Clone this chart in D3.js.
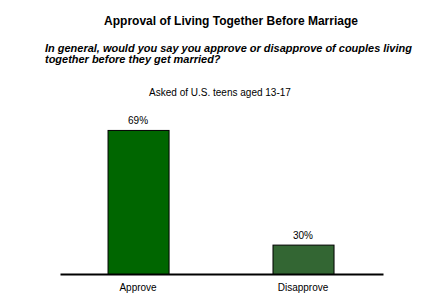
<!DOCTYPE html>
<html>
<head>
<meta charset="utf-8">
<script src="https://cdn.jsdelivr.net/npm/d3@7"></script>
<style>
  body { margin: 0; background: #fff; }
  text { font-family: "Liberation Sans", Arial, sans-serif; fill: #000; }
</style>
</head>
<body>
<svg id="chart"></svg>
<script>

var categories = ["Approve", "Disapprove"]
var values = [69, 30]
var valueLabels = ["69%", "30%"]
var colors = ["#006600", "#336633"]
var questionLines = ["In general, would you say you approve or disapprove of couples living",
                     "together before they get married?"]

var width = 440
var height = 300

var svg = d3.select("#chart")
            .attr("width", width)
            .attr("height", height)

// title + question
svg.append("text")
    .attr("x", 231)
    .attr("y", 25)
    .attr("text-anchor", "middle")
    .style("font-size", "12px")
    .style("font-weight", "bold")
    .text("Approval of Living Together Before Marriage")

var qWidth = 367
var q = svg.selectAll(".q")
    .data(questionLines)
    .enter()
    .append("text")
    .attr("class", "q")
    .attr("x", 45)
    .attr("y", function(d, i) { return 52 + i * 11 })
    .style("font-size", "11.5px")
    .style("font-weight", "bold")
    .style("font-style", "italic")
    .text(function(d) { return d })

// fit the first line to the width seen in the original, same size for both lines
var measured = q.node().getComputedTextLength()
if (measured > 0) {
    var fs = Math.min(13, 11.5 * qWidth / measured)
    q.style("font-size", fs + "px")
}

svg.append("text")
    .attr("x", 220)
    .attr("y", 96)
    .attr("text-anchor", "middle")
    .style("font-size", "10px")
    .text("Asked of U.S. teens aged 13-17")

var xScale = d3.scaleBand()
    .domain(categories)
    .range([60, 383])
    .paddingInner(0.63)
    .paddingOuter(0.294)
    .align(0.49)

// the original chart's value axis does not start at 0
var yScale = d3.scaleLinear()
    .domain([20, 70])
    .range([274, 127])

svg.selectAll(".bar")
    .data(values)
    .enter()
    .append("rect")
    .attr("class", "bar")
    .attr("x", function(d, i) { return xScale(categories[i]) + 0.5 })
    .attr("y", function(d) { return yScale(d) + 0.5 })
    .attr("width", xScale.bandwidth())
    .attr("height", function(d) { return yScale.range()[0] - yScale(d) })
    .attr("fill", function(d, i) { return colors[i] })
    .attr("stroke", "#000")
    .attr("stroke-width", 1)

svg.selectAll(".val")
    .data(values)
    .enter()
    .append("text")
    .attr("class", "val")
    .attr("x", function(d, i) { return xScale(categories[i]) + xScale.bandwidth() / 2 })
    .attr("y", function(d) { return yScale(d) - 6 })
    .attr("text-anchor", "middle")
    .style("font-size", "10px")
    .text(function(d, i) { return valueLabels[i] })

var x_axis = d3.axisBottom(xScale)
    .tickSize(0)
    .tickPadding(10)

var gx = svg.append("g")
    .attr("transform", "translate(0,274)")
    .call(x_axis)

gx.select(".domain")
    .attr("stroke", "#000")
    .attr("stroke-width", 2)

gx.selectAll(".tick text")
    .style("font-size", "10px")
    .style("font-family", "Liberation Sans, Arial, sans-serif")
    .attr("fill", "#000")

</script>
</body>
</html>
